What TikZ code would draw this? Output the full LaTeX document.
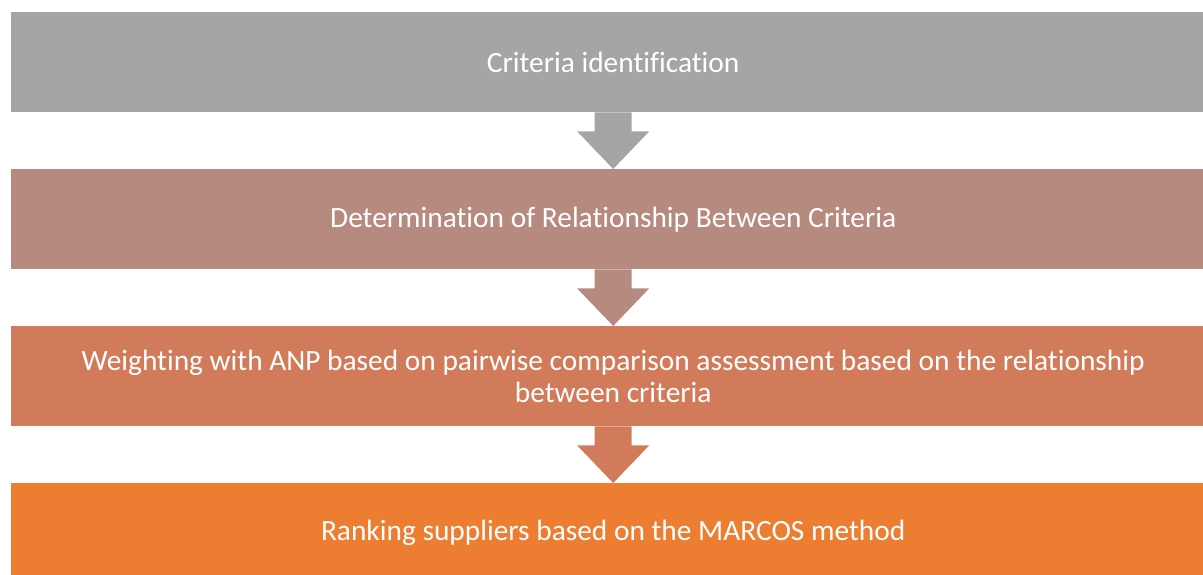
\documentclass[tikz,border=0pt]{standalone}
\usepackage{fontspec}
\setmainfont{Carlito}[Ligatures=NoCommon]
\usetikzlibrary{calc}
\definecolor{stepgray}{HTML}{A5A5A5}
\definecolor{steprose}{HTML}{B78A80}
\definecolor{stepclay}{HTML}{D27B5B}
\definecolor{steporange}{HTML}{ED7D31}
\tikzset{
  stepbox/.style={fill=#1, text=white, minimum width=1204pt, minimum height=100pt,
    inner sep=0pt, anchor=north west, align=center,
    font=\fontsize{29.4}{32}\selectfont}
}
% block arrow hanging below box #1 down to the top of box #2
\newcommand{\StepArrow}[3]{
  \fill[#3] ($(#1.south)+(-18.5,0)$) -- ($(#1.south)+(18.5,0)$)
    -- ($(#1.south)+(18.5,19)$) -- ($(#1.south)+(36,19)$)
    -- (#2.north)
    -- ($(#1.south)+(-36,19)$) -- ($(#1.south)+(-18.5,19)$) -- cycle;
}
\begin{document}
\begin{tikzpicture}[x=1pt,y=-1pt]
  \useasboundingbox (0,0) rectangle (1203,574);
  \begin{scope}
    \clip (0,0) rectangle (1203,574);
    \node[stepbox=stepgray] (crit) at (11,12) {Criteria identification};
    \node[stepbox=steprose] (rel) at (11,169) {Determination of Relationship Between Criteria};
    \node[stepbox=stepclay] (anp) at (11,326)
      {Weighting with ANP based on pairwise comparison assessment based on the relationship\\between criteria};
    \node[stepbox=steporange] (rank) at (11,483) {Ranking suppliers based on the MARCOS method};

    \StepArrow{crit}{rel}{stepgray}
    \StepArrow{rel}{anp}{steprose}
    \StepArrow{anp}{rank}{stepclay}
  \end{scope}
\end{tikzpicture}
\end{document}
